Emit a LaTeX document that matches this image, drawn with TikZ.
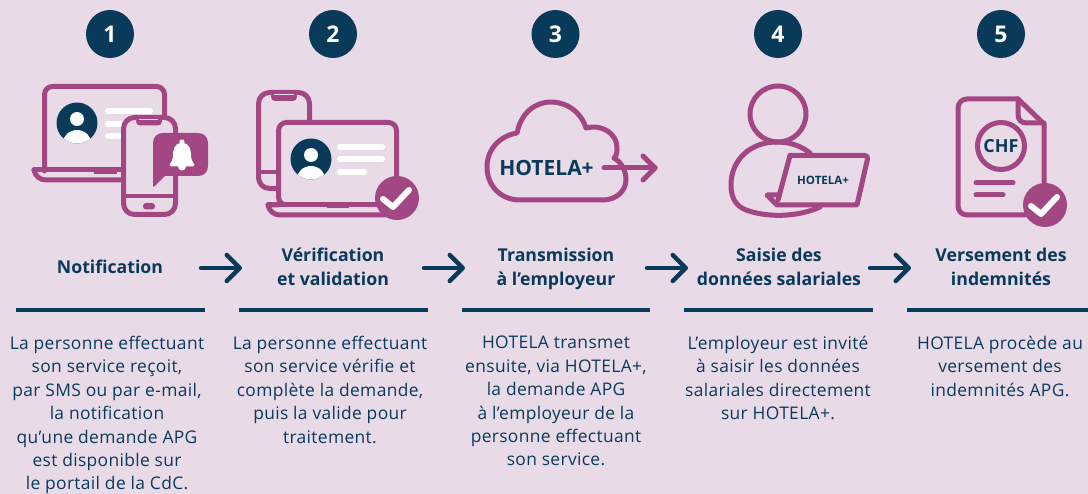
\documentclass[tikz,border=0pt]{standalone}
\usepackage{fontspec}
\setmainfont{Open Sans}
\newfontfamily\bodyfont[LetterSpace=2]{Open Sans}
\usetikzlibrary{arrows.meta}
\definecolor{bgc}{HTML}{E9DAE8}
\definecolor{plum}{HTML}{A34684}
\definecolor{navy}{HTML}{0A3A5A}
\newcommand{\tstrut}{\rule[-5pt]{0pt}{18pt}}
\newcommand{\avatarat}[2]{%
  \begin{scope}[shift={(#1,#2)}]
    \fill[navy] (0,0) circle[radius=20.5];
    \begin{scope}
      \clip (0,0) circle[radius=20.5];
      \fill[white] (0,21) ellipse[x radius=14.5,y radius=14];
    \end{scope}
    \fill[white] (0,-4) circle[radius=7];
  \end{scope}}
\newcommand{\checkat}[2]{%
  \fill[plum] (#1,#2) circle[radius=22];
  \draw[whitebar,line width=6pt,line join=round] (#1-14,#2+1) -- (#1-4,#2+9) -- (#1+12,#2-8);}
\tikzset{
  x=1pt,y=-1pt,
  badge/.style={circle,fill=navy,text=white,minimum size=48pt,inner sep=0pt,font=\fontsize{23}{23}\selectfont\bfseries},
  titlenode/.style={text=navy,align=center,inner sep=0pt,font=\fontsize{17.7}{24}\selectfont\bfseries},
  bodynode/.style={text=navy,align=center,inner sep=0pt,anchor=north,font=\bodyfont\fontsize{17.4}{23.4}\selectfont},
  rulebar/.style={draw=navy,line width=4pt},
  steparrow/.style={draw=navy,line width=4.5pt,line cap=round,-{Straight Barb[length=13pt,width=26pt,line width=4.5pt,round]}},
  icon/.style={draw=plum,line width=5pt,line cap=round,line join=round},
  whitebar/.style={draw=white,line cap=round,line width=6pt},
  plumbar/.style={draw=plum,line cap=round,line width=5pt},
}
\begin{document}
\begin{tikzpicture}
\useasboundingbox (0,0) rectangle (1088,494);
\fill[bgc] (0,0) rectangle (1088,494);

% badges
\node[badge] (b1) at (110,34) {\raisebox{-1pt}{1}};
\node[badge] (b2) at (333,34) {\raisebox{-1pt}{2}};
\node[badge] (b3) at (555.5,34) {\raisebox{-1pt}{3}};
\node[badge] (b4) at (778,34) {\raisebox{-1pt}{4}};
\node[badge] (b5) at (1001,34) {\raisebox{-1pt}{5}};

% icon 1
\draw[icon,rounded corners=8pt] (44.5,171) -- (44.5,86.5) -- (164.5,86.5) -- (164.5,171);
\draw[icon] (34,170) -- (125,170);
\draw[icon] (34,170) .. controls (35,176) and (40,180) .. (46,180) -- (125,180);
\draw[plum,line width=2pt] (94,173) -- (117,173);
\avatarat{77}{123}
\draw[whitebar] (108,111) -- (150,111);
\draw[whitebar] (108,124) -- (125,124);
\draw[whitebar] (108,136) -- (125,136);
\draw[icon,fill=bgc,rounded corners=11pt] (123.5,117.5) rectangle (175.5,214.5);
\draw[plum,line width=4.5pt] (123.5,196) -- (175.5,196);
\fill[plum,rounded corners=4pt] (136,117) -- (162,117) -- (162,125.5) -- (136,125.5) -- cycle;
\fill[bgc] (139,119) rectangle (158,120);
\fill[plum,rounded corners=3pt] (143,203) rectangle (155,209.5);
\fill[plum] (153,186) -- (153,143) .. controls (153,137) and (157,133) .. (163,133) -- (198,133) .. controls (204,133) and (208,137) .. (208,143) -- (208,166) .. controls (208,172) and (204,176) .. (198,176) -- (165,176) -- (155,186) .. controls (154,187) and (153,187) .. (153,186) -- cycle;
\fill[white] (182,142) circle[radius=2.6];
\fill[white] (182,143) .. controls (174,143) and (173,150) .. (173,156) .. controls (173,160) and (171,162) .. (169.5,165) .. controls (169.5,166) and (170,166.5) .. (171,166.5) -- (193,166.5) .. controls (194,166.5) and (194.5,166) .. (194.5,165) .. controls (193,162) and (191,160) .. (191,156) .. controls (191,150) and (190,143) .. (182,143) -- cycle;
\fill[white] (182,166.5) circle[radius=4];

% icon 2
\draw[icon,rounded corners=11pt] (309.5,125) -- (309.5,92.5) -- (258.5,92.5) -- (258.5,188.5) -- (280,188.5);
\draw[plum,line width=4.5pt] (258.5,172) -- (280,172);
\fill[plum,rounded corners=4pt] (271,92) -- (297,92) -- (297,101) -- (271,101) -- cycle;
\fill[bgc] (274,94.5) rectangle (294,95.5);
\draw[icon,fill=bgc,rounded corners=8pt] (278.5,205) -- (278.5,122.5) -- (396.5,122.5) -- (396.5,205) -- cycle;
\fill[bgc] (276,204) rectangle (399,212);
\draw[icon] (278,205) -- (268,205) .. controls (269,211) and (274,215) .. (280,215) -- (385,215);
\draw[icon] (268,205) -- (385,205);
\draw[plum,line width=2pt] (327,207) -- (349,207);
\avatarat{311}{159}
\draw[whitebar] (340,147) -- (382,147);
\draw[whitebar] (340,159) -- (382,159);
\draw[whitebar] (340,172) -- (364,172);
\checkat{397}{198}

% icon 3
\draw[icon] (520,200) -- (603,200) .. controls (617,200) and (626,190) .. (626,180) .. controls (626,170) and (621,162) .. (614,158) .. controls (617,155) and (617,152) .. (617,150) .. controls (618,132) and (600,124) .. (586,128) .. controls (581,112) and (567,102) .. (551,102) .. controls (535,102) and (521,113) .. (517,133) .. controls (499,136) and (487,150) .. (487,167) .. controls (487,185) and (500,200) .. (520,200) -- cycle;
\draw[icon] (604,168) -- (655,168);
\draw[icon] (643,156) -- (655,168) -- (643,180);
\node[text=navy,inner sep=0pt,font=\fontsize{21}{21}\selectfont\bfseries] (h1) at (546.5,168) {HOTELA+};

% icon 4
\draw[icon] (778,114) circle[radius=28];
\draw[icon] (810,153) .. controls (800,145) and (788,142) .. (777,142) .. controls (750,142) and (731,160) .. (731,185) .. controls (731,198) and (736,206) .. (746,210) .. controls (768,218) and (798,217) .. (820,207);
\draw[icon,fill=bgc] (790,155.5) -- (865,155.5) .. controls (867,155.5) and (868,157) .. (867.5,159) -- (857,205) -- (777,205) -- (767,195) -- (778,195);
\draw[icon] (790,155.5) -- (778,200);
\node[text=navy,inner sep=0pt,font=\fontsize{11.5}{12}\selectfont\bfseries] (h2) at (823,180) {HOTELA+};

% icon 5
\draw[icon,rounded corners=9pt] (1018,99) -- (958,99) -- (958,215) -- (1025,215);
\draw[icon] (1018,99) -- (1044,124) -- (1044,190);
\draw[icon] (1018,99) -- (1018,114) .. controls (1018,120) and (1021,123) .. (1027,123) -- (1044,123);
\draw[icon] (1001,146) circle[radius=23.5];
\node[text=navy,inner sep=0pt,font=\fontsize{18}{18}\selectfont\bfseries] (chf) at (1001,146) {CHF};
\draw[plumbar] (976,183) -- (1013,183);
\draw[plumbar] (976,195) -- (1003,195);
\checkat{1045}{205}

% titles
\node[titlenode] (t1) at (110,269) {\tstrut Notification};
\node[titlenode] (t2) at (333,269) {\tstrut Vérification\\\tstrut et validation};
\node[titlenode] (t3) at (556,269) {\tstrut Transmission\\\tstrut à l’employeur};
\node[titlenode] (t4) at (779,269) {\tstrut Saisie des\\\tstrut données salariales};
\node[titlenode] (t5) at (1001,269) {\tstrut Versement des\\\tstrut indemnités};

% arrows
\foreach \i/\xa/\xb in {1/201/242,2/424/465,3/647/688,4/870/911}{
  \coordinate (as\i) at (\xa,268);
  \coordinate (ae\i) at (\xb,268);
  \draw[steparrow] (as\i) -- (ae\i);
}

% rules
\foreach \i/\xa/\xb in {1/16/205,2/239/428,3/462/650,4/684/873,5/907/1088}{
  \coordinate (rs\i) at (\xa,310);
  \coordinate (re\i) at (\xb,310);
  \draw[rulebar] (rs\i) -- (re\i);
}

% bodies
\node[bodynode] (d1) at (107,336) {La personne effectuant\\son service reçoit,\\par SMS ou par e-mail,\\la notification\\qu’une demande APG\\est disponible sur\\le portail de la CdC.};
\node[bodynode] (d2) at (330,336) {La personne effectuant\\son service vérifie et\\complète la demande,\\puis la valide pour\\traitement.};
\node[bodynode] (d3) at (556,336) {HOTELA transmet\\ensuite, via HOTELA+,\\la demande APG\\à l’employeur de la\\personne effectuant\\son service.};
\node[bodynode] (d4) at (778,336) {L’employeur est invité\\à saisir les données\\salariales directement\\sur HOTELA+.};
\node[bodynode] (d5) at (1000,336) {HOTELA procède au\\versement des\\indemnités APG.};
\end{tikzpicture}
\end{document}
